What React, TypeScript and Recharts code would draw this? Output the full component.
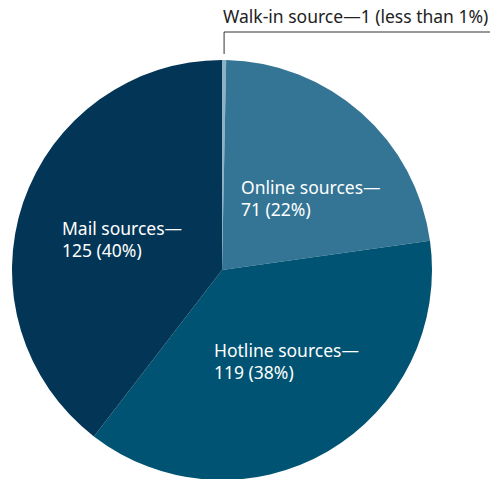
import { PieChart, Pie, Cell } from 'recharts';

const sources = ['Walk-in source', 'Online sources', 'Hotline sources', 'Mail sources'];
const counts = [1, 71, 119, 125];
const shares = ['less than 1%', '22%', '38%', '40%'];
const colors = ['#8db1c6', '#347494', '#005372', '#033656'];

const data = sources.map((name, i) => ({ name, value: counts[i], share: shares[i] }));

const font = '"Noto Sans", sans-serif';

// label anchor offsets from the pie centre, per slice
const labelOffsets: Record<string, [number, number]> = {
  'Online sources': [19, -76],
  'Hotline sources': [-8, 87],
  'Mail sources': [-160, -35],
};

function renderLabel(props: any) {
  const { cx, cy, outerRadius, midAngle, payload, index } = props;
  const name = payload.name;
  if (index === 0) {
    const rad = (midAngle * Math.PI) / 180;
    const ex = cx + outerRadius * Math.cos(rad);
    const ey = cy - outerRadius * Math.sin(rad);
    return (
      <g>
        <polyline
          points={`${ex},${ey - 6} ${ex},32 490,32`}
          fill="none"
          stroke="#333"
          strokeWidth={1}
        />
        <text x={ex - 1} y={23} fill="#222" fontSize={17.5} fontFamily={font}>
          {`${name}—${payload.value} (${payload.share})`}
        </text>
      </g>
    );
  }
  const [dx, dy] = labelOffsets[name];
  return (
    <text x={cx + dx} y={cy + dy} fill="#fff" fontSize={17.5} fontFamily={font}>
      <tspan x={cx + dx} dy={0}>{`${name}—`}</tspan>
      <tspan x={cx + dx} dy={22}>{`${payload.value} (${payload.share})`}</tspan>
    </text>
  );
}

export default function App() {
  return (
    <div style={{ position: 'absolute', left: 0, top: 0, width: 494, height: 479, background: '#fff' }}>
      <PieChart width={494} height={479} margin={{ top: 0, right: 0, bottom: 0, left: 0 }}>
        <Pie
          data={data}
          dataKey="value"
          nameKey="name"
          cx={222}
          cy={270}
          outerRadius={210}
          startAngle={90}
          endAngle={-270}
          stroke="none"
          label={renderLabel}
          labelLine={false}
          isAnimationActive={false}
        >
          {data.map((d, i) => (
            <Cell key={d.name} fill={colors[i]} />
          ))}
        </Pie>
      </PieChart>
    </div>
  );
}
